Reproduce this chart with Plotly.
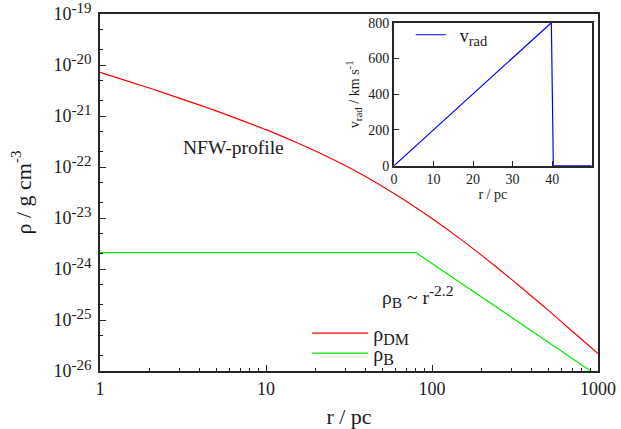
import plotly.graph_objects as go

# Dark matter density (NFW profile), r in pc, rho in g cm^-3
r_dm = [1, 1.5, 2, 3, 4, 5, 7, 10, 15, 20, 30, 40, 50, 70, 100, 150, 200,
        300, 400, 500, 700, 1000]
rho_dm = [7.2e-21, 4.71e-21, 3.5e-21, 2.24e-21, 1.63e-21, 1.26e-21, 8.4e-22,
          5.4e-22, 3.1e-22, 2.04e-22, 1.07e-22, 6.43e-23, 4.2e-23, 2.14e-23,
          9.8e-24, 3.77e-24, 1.83e-24, 6.33e-25, 2.9e-25, 1.56e-25, 6.0e-26,
          2.2e-26]

# Baryon density: flat core, then rho ~ r^-2.2
r_b = [1, 80, 1000]
rho_b = [2.1e-24, 2.1e-24, 8.0e-27]

# Radial velocity profile (inset)
r_v = [0, 39.8, 40.3, 50]
v_rad = [0, 800, 0, 0]

x_ticks = [1, 10, 100, 1000]
x_ticktext = ["1", "10", "100", "1000"]
y_exps = [-26, -25, -24, -23, -22, -21, -20, -19]
y_ticks = [10.0 ** e for e in y_exps]
x_minor = [k * 10 ** d for d in range(3) for k in range(2, 10)]
y_minor = [k * 10.0 ** e for e in y_exps[:-1] for k in (2, 5)]

v_xticks = [0, 10, 20, 30, 40]
v_yticks = [0, 200, 400, 600, 800]

FONT = "Liberation Serif, DejaVu Serif, Times New Roman, serif"
INK = "#1a1a1a"
AXC = "#262626"


def sup(t, px):
    return "<sup><span style='font-size:%gpx'>%s</span></sup>" % (px, t)


def sub(t, px):
    return "<sub><span style='font-size:%gpx'>%s</span></sub>" % (px, t)


y_ticktext = ["10" + sup(str(e), 15) for e in y_exps]

fig = go.Figure()
fig.add_trace(go.Scatter(x=r_dm, y=rho_dm, mode="lines", name="ρ" + sub("DM", 16),
                         line=dict(color="#ff0000", width=1.2, shape="spline",
                                   smoothing=0.6),
                         xaxis="x", yaxis="y", legend="legend", showlegend=True))
fig.add_trace(go.Scatter(x=r_b, y=rho_b, mode="lines", name="ρ" + sub("B", 16),
                         line=dict(color="#00ee00", width=1.2),
                         xaxis="x", yaxis="y", legend="legend3", showlegend=True))
fig.add_trace(go.Scatter(x=r_v, y=v_rad, mode="lines",
                         name="&nbsp;&nbsp;v" + sub("rad", 14.5),
                         line=dict(color="#0000ff", width=1.2),
                         xaxis="x2", yaxis="y2", legend="legend2", showlegend=True))

axis_common = dict(showgrid=False, zeroline=False, showline=True, linecolor=AXC,
                   linewidth=2, mirror=True, ticks="inside", tickcolor=AXC,
                   tickwidth=1.2, color=INK, automargin=False,
                   ticklabeloverflow="allow")

legend_common = dict(xanchor="left", yanchor="middle", bgcolor="rgba(0,0,0,0)",
                     borderwidth=0)

fig.update_layout(
    width=621, height=429,
    margin=dict(l=100, r=23, t=14, b=58),
    paper_bgcolor="white", plot_bgcolor="white",
    showlegend=True,
    font=dict(family=FONT, size=18, color=INK),
    xaxis=dict(axis_common, type="log", range=[0, 3], domain=[0, 1],
               tickmode="array", tickvals=x_ticks, ticktext=x_ticktext, ticklen=6,
               minor=dict(ticks="inside", tickvals=x_minor, ticklen=3,
                          tickcolor=AXC, tickwidth=1),
               title=dict(text="r / pc", standoff=14),
               tickfont=dict(size=18), anchor="y"),
    yaxis=dict(axis_common, type="log", range=[-26, -19], domain=[0, 1],
               tickmode="array", tickvals=y_ticks, ticktext=y_ticktext, ticklen=6,
               ticklabelstandoff=3,
               minor=dict(ticks="inside", tickvals=y_minor, ticklen=3,
                          tickcolor=AXC, tickwidth=1),
               title=dict(text="ρ / g cm" + sup("-3", 15), standoff=16),
               tickfont=dict(size=18), anchor="x"),
    xaxis2=dict(axis_common, range=[0, 50], domain=[0.5904, 0.9873],
                tickmode="array", tickvals=v_xticks, ticklen=5,
                tickfont=dict(size=14),
                title=dict(text="r / pc", font=dict(size=14), standoff=2),
                anchor="y2"),
    yaxis2=dict(axis_common, range=[0, 800], domain=[0.5751, 0.9756],
                tickmode="array", tickvals=v_yticks, ticklen=5,
                tickfont=dict(size=14),
                title=dict(text="v" + sub("rad", 11) + " / km s" + sup("-1", 11),
                           font=dict(size=14), standoff=5),
                anchor="x2"),
    legend=dict(legend_common, x=0.416, y=0.106, font=dict(size=20), itemwidth=56),
    legend3=dict(legend_common, x=0.416, y=0.05, font=dict(size=20), itemwidth=56),
    legend2=dict(legend_common, x=0.624, y=0.941, font=dict(size=18)),
    annotations=[
        dict(text="NFW-profile", x=0.268, y=0.626, xref="paper", yref="paper",
             xanchor="center", yanchor="middle", showarrow=False,
             font=dict(size=19.5)),
        dict(text="ρ" + sub("B", 15.5) + " ~ r" + sup("-2.2", 15.5), x=0.637, y=0.21,
             xref="paper", yref="paper", xanchor="center", yanchor="middle",
             showarrow=False, font=dict(size=19.5)),
    ],
)

fig.write_html("out.html")
